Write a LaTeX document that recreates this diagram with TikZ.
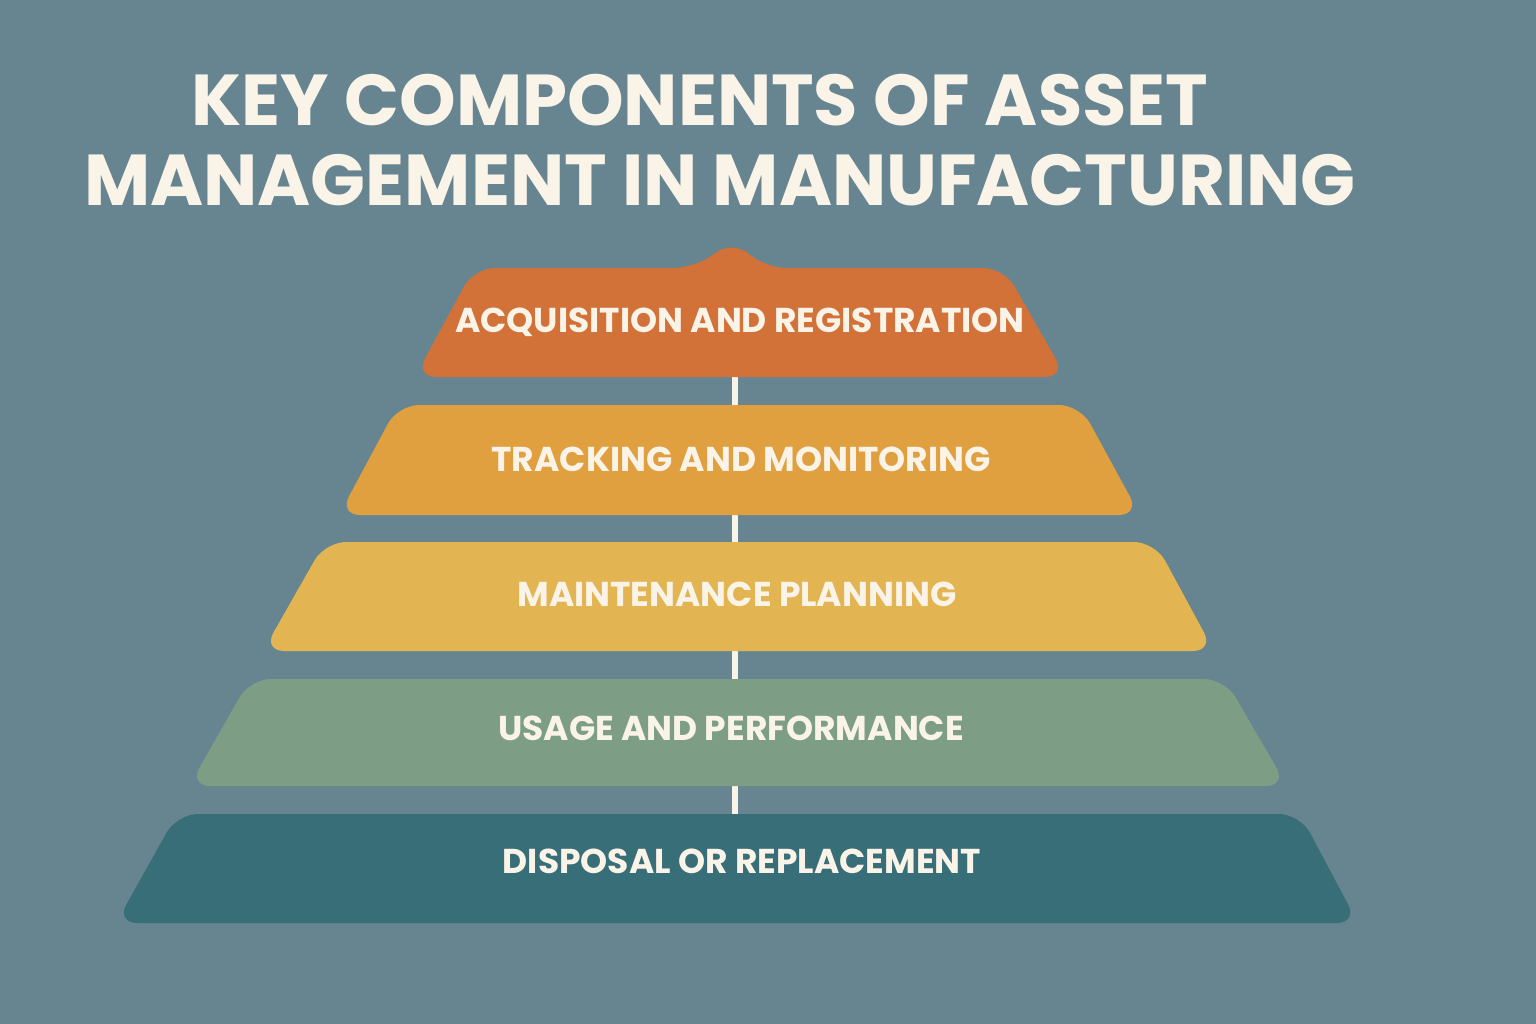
\documentclass[tikz,border=0pt]{standalone}
\usepackage{fontspec}
\setmainfont{Poppins}
\begin{document}
\begin{tikzpicture}[x=0.01cm,y=-0.01cm,
  layer/.style={rounded corners=6pt},
  lbl/.style={text=txt,font=\bfseries\fontsize{9.8}{12}\selectfont},
  conn/.style={draw=txt,line width=1.6pt}]
\definecolor{bg}{HTML}{678590}
\definecolor{txt}{HTML}{FAF3E8}
\definecolor{c1}{HTML}{D37238}
\definecolor{c2}{HTML}{E0A040}
\definecolor{c3}{HTML}{E3B452}
\definecolor{c4}{HTML}{7D9E85}
\definecolor{c5}{HTML}{386E78}
\fill[bg] (0,0) rectangle (1536,1024);
\useasboundingbox (0,0) rectangle (1536,1024);
\node[text=txt,font=\bfseries\fontsize{20.5}{24}\selectfont] (t1) at (700,100) {KEY COMPONENTS OF ASSET};
\node[text=txt,font=\bfseries\fontsize{20.5}{24}\selectfont] (t2) at (720,180) {MANAGEMENT IN MANUFACTURING};
% connectors
\coordinate (b1) at (735,377); \coordinate (a2) at (735,405);
\coordinate (b2) at (735,515); \coordinate (a3) at (735,542);
\coordinate (b3) at (735,651); \coordinate (a4) at (735,679);
\coordinate (b4) at (735,786); \coordinate (a5) at (735,814);
\draw[conn] (b1) -- (a2); \draw[conn] (b2) -- (a3);
\draw[conn] (b3) -- (a4); \draw[conn] (b4) -- (a5);
% layers
\fill[c1,layer] (415,377) -- (474,268) -- (695,268) -- (733,240) -- (765,268) -- (1004,268) -- (1066,377) -- cycle;
\fill[c2,layer] (339,515) -- (398,405) -- (1080,405) -- (1140,515) -- cycle;
\fill[c3,layer] (263,651) -- (325,542) -- (1155,542) -- (1214,651) -- cycle;
\fill[c4,layer] (189,786) -- (250,679) -- (1225,679) -- (1287,786) -- cycle;
\fill[c5,layer] (116,923) -- (177,814) -- (1300,814) -- (1358,923) -- cycle;
\node[lbl] (l1) at (740,322) {ACQUISITION AND REGISTRATION};
\node[lbl] (l2) at (741,459) {TRACKING AND MONITORING};
\node[lbl] (l3) at (737,594) {MAINTENANCE PLANNING};
\node[lbl] (l4) at (731,728) {USAGE AND PERFORMANCE};
\node[lbl] (l5) at (742,861) {DISPOSAL OR REPLACEMENT};
\end{tikzpicture}
\end{document}
